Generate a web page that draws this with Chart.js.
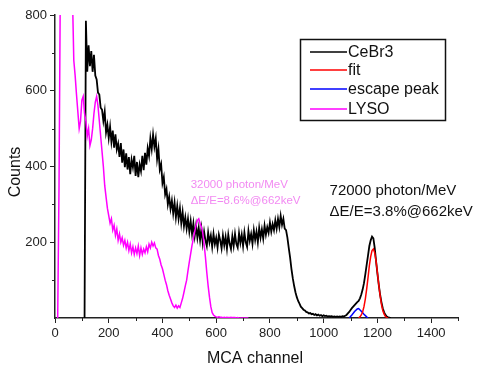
<!DOCTYPE html>
<html>
<head>
<meta charset="utf-8">
<script src="https://cdn.jsdelivr.net/npm/chart.js@4/dist/chart.umd.min.js"></script>
<style>
  html, body { margin: 0; padding: 0; background: #fff; }
  #wrap { width: 478px; height: 374px; }
</style>
</head>
<body>
<div id="wrap"><canvas id="chart-spectrum" width="478" height="374"></canvas></div>
<script>
// CeBr3 spectrum, channel 110..1250 step 5
var cebrStart = 110, cebrStep = 5;
var cebrCounts = [
  0, 785, 650, 720, 665, 705, 650, 695, 640, 630, 595, 590, 555, 550, 520, 545, 490, 510, 475, 505,
  465, 495, 450, 485, 445, 460, 425, 462, 410, 445, 398, 435, 392, 425, 380, 418, 398, 428, 375, 412,
  372, 405, 388, 428, 390, 436, 405, 448, 428, 474, 446, 484, 452, 474, 420, 446, 392, 406, 356, 372,
  326, 340, 300, 320, 288, 310, 276, 305, 266, 296, 262, 290, 250, 280, 242, 266, 236, 262, 228, 256,
  222, 250, 216, 244, 212, 238, 206, 236, 198, 228, 205, 190, 226, 200, 218, 188, 222, 195, 212, 186,
  220, 205, 184, 218, 192, 214, 183, 220, 196, 182, 216, 190, 222, 196, 186, 224, 198, 220, 190, 226,
  200, 188, 230, 204, 222, 196, 232, 206, 228, 200, 238, 212, 234, 210, 244, 220, 240, 225, 252, 228,
  248, 232, 258, 236, 262, 240, 270, 246, 262, 236, 232, 212, 185, 160, 130, 105, 85, 68, 55, 45,
  38, 30, 26, 22, 20, 16, 15, 12, 13, 10, 11, 8, 10, 7, 9, 6, 8, 5, 7, 5,
  6, 4, 5, 4, 5, 3, 4, 3, 4, 3, 4, 3, 5, 4, 6, 8, 12, 16, 21, 26,
  30, 34, 38, 42, 45, 52, 62, 75, 92, 115, 140, 165, 190, 205, 215, 210, 185, 150, 118, 88,
  62, 42, 26, 15, 8, 4, 2, 1, 0
];

// LYSO spectrum, channel 10..720 step 5
var lysoStart = 10, lysoStep = 5;
var lysoCounts = [
  0, 350, 900, 1400, 1800, 2000, 2000, 1900, 1700, 1400, 1100, 850, 680, 640, 590, 545, 500, 520, 575, 585,
  540, 520, 480, 500, 455, 470, 500, 540, 570, 585, 560, 520, 480, 440, 400, 350, 320, 290, 270, 250,
  262, 232, 245, 218, 235, 205, 222, 200, 212, 192, 205, 185, 200, 178, 195, 172, 188, 168, 185, 170,
  190, 165, 185, 168, 182, 172, 188, 175, 195, 185, 200, 190, 198, 185, 182, 165, 155, 140, 130, 115,
  100, 88, 72, 60, 50, 40, 32, 28, 34, 26, 32, 28, 40, 52, 68, 85, 100, 125, 148, 170,
  192, 210, 228, 245, 258, 262, 250, 240, 225, 195, 160, 120, 85, 55, 30, 14, 8, 5, 3, 2,
  3, 2, 2, 1, 2, 1, 2, 1, 1, 2, 1, 1, 1, 0, 1, 0, 0, 0, 0, 0,
  0, 0, 0
];

// gaussian fit of the 662 keV peak
var fitChannels = [1130, 1135, 1140, 1145, 1150, 1155, 1160, 1165, 1170, 1175, 1180, 1185, 1190, 1195, 1200, 1205, 1210, 1215, 1220, 1225, 1230, 1235, 1240];
var fitCounts   = [0, 3, 8, 16, 30, 50, 76, 106, 138, 162, 178, 182, 172, 150, 120, 88, 60, 36, 20, 10, 4, 1, 0];

// escape peak
var escChannels = [1095, 1105, 1115, 1125, 1130, 1140, 1150, 1160, 1165];
var escCounts   = [0, 8, 17, 24, 25, 18, 10, 3, 0];

var xTicks = [0, 200, 400, 600, 800, 1000, 1200, 1400];
var yTicks = [200, 400, 600, 800];

var seriesNames  = ['CeBr3', 'fit', 'escape peak', 'LYSO'];
var seriesColors = ['#000000', '#ff0000', '#0000ff', '#ff00ff'];

var FONT = '"Liberation Sans", Arial, sans-serif';

function toPoints(start, step, values) {
  return values.map(function (v, i) { return { x: start + i * step, y: v }; });
}
function pairPoints(xs, ys) {
  return xs.map(function (x, i) { return { x: x, y: ys[i] }; });
}

var extras = {
  id: 'extras',
  afterDraw: function (chart) {
    var ctx = chart.ctx;
    var xs = chart.scales.x, ys = chart.scales.y;
    var area = chart.chartArea;
    ctx.save();

    // minor ticks
    ctx.strokeStyle = '#222';
    ctx.lineWidth = 1;
    ctx.beginPath();
    for (var v = 100; v <= 1500; v += 200) {
      var px = Math.round(xs.getPixelForValue(v)) + 0.5;
      ctx.moveTo(px, area.bottom);
      ctx.lineTo(px, area.bottom + 3);
    }
    for (var w = 100; w <= 700; w += 200) {
      var py = Math.round(ys.getPixelForValue(w)) + 0.5;
      ctx.moveTo(area.left - 3, py);
      ctx.lineTo(area.left, py);
    }
    ctx.stroke();

    // axis titles
    ctx.fillStyle = '#111';
    ctx.font = '16px ' + FONT;
    ctx.textAlign = 'center';
    ctx.textBaseline = 'middle';
    ctx.fillText('MCA channel', 255, 359);
    ctx.save();
    ctx.translate(16, 172);
    ctx.rotate(-Math.PI / 2);
    ctx.fillText('Counts', 0, 0);
    ctx.restore();

    // legend box
    ctx.strokeStyle = '#111';
    ctx.lineWidth = 1.5;
    ctx.strokeRect(300.5, 39.5, 145, 81);
    var rows = [52, 70, 89, 109];
    ctx.textAlign = 'left';
    ctx.font = '16px ' + FONT;
    for (var i = 0; i < seriesNames.length; i++) {
      ctx.strokeStyle = seriesColors[i];
      ctx.lineWidth = 1.5;
      ctx.beginPath();
      ctx.moveTo(310, rows[i]);
      ctx.lineTo(347, rows[i]);
      ctx.stroke();
      ctx.fillStyle = '#111';
      ctx.fillText(seriesNames[i], 348, rows[i] + 1);
    }

    // annotations
    ctx.fillStyle = '#f28af2';
    ctx.font = '11.5px ' + FONT;
    ctx.fillText('32000 photon/MeV', xs.getPixelForValue(505), 185);
    ctx.fillText('\u0394E/E=8.6%@662keV', xs.getPixelForValue(505), 201);
    ctx.fillStyle = '#111';
    ctx.font = '15px ' + FONT;
    ctx.fillText('72000 photon/MeV', xs.getPixelForValue(1022), 191);
    ctx.fillText('\u0394E/E=3.8%@662keV', xs.getPixelForValue(1022), 212);

    ctx.restore();
  }
};

var ctx = document.getElementById('chart-spectrum');
new Chart(ctx, {
  type: 'line',
  data: {
    datasets: [{
      label: seriesNames[3],
      data: toPoints(lysoStart, lysoStep, lysoCounts),
      borderColor: seriesColors[3],
      borderWidth: 1.5
    }, {
      label: seriesNames[1],
      data: pairPoints(fitChannels, fitCounts),
      borderColor: seriesColors[1],
      borderWidth: 1.5
    }, {
      label: seriesNames[2],
      data: pairPoints(escChannels, escCounts),
      borderColor: seriesColors[2],
      borderWidth: 1.5
    }, {
      label: seriesNames[0],
      data: toPoints(cebrStart, cebrStep, cebrCounts),
      borderColor: seriesColors[0],
      borderWidth: 1.8
    }]
  },
  options: {
    responsive: false,
    animation: false,
    layout: { padding: { top: 15, right: 20, left: 0, bottom: 0 } },
    elements: { point: { radius: 0 }, line: { tension: 0 } },
    plugins: { legend: { display: false }, tooltip: { enabled: false } },
    scales: {
      x: {
        type: 'linear',
        min: 0,
        max: 1500,
        afterFit: function (scale) { scale.height = 56; },
        afterBuildTicks: function (scale) {
          scale.ticks = xTicks.map(function (v) { return { value: v }; });
        },
        ticks: {
          color: '#222', font: { size: 13, family: FONT }, padding: 3, maxRotation: 0, autoSkip: false,
          callback: function (value) { return String(value); }
        },
        grid: { drawOnChartArea: false, tickLength: 5, color: '#222' },
        border: { color: '#222', width: 1.5 }
      },
      y: {
        min: 0,
        max: 800,
        afterFit: function (scale) { scale.width = 55; },
        afterBuildTicks: function (scale) {
          scale.ticks = yTicks.map(function (v) { return { value: v }; });
        },
        ticks: {
          color: '#222', font: { size: 13, family: FONT }, padding: 3,
          callback: function (value) { return String(value); }
        },
        grid: { drawOnChartArea: false, tickLength: 5, color: '#222' },
        border: { color: '#222', width: 1.5 }
      }
    }
  },
  plugins: [extras]
});
</script>
</body>
</html>
